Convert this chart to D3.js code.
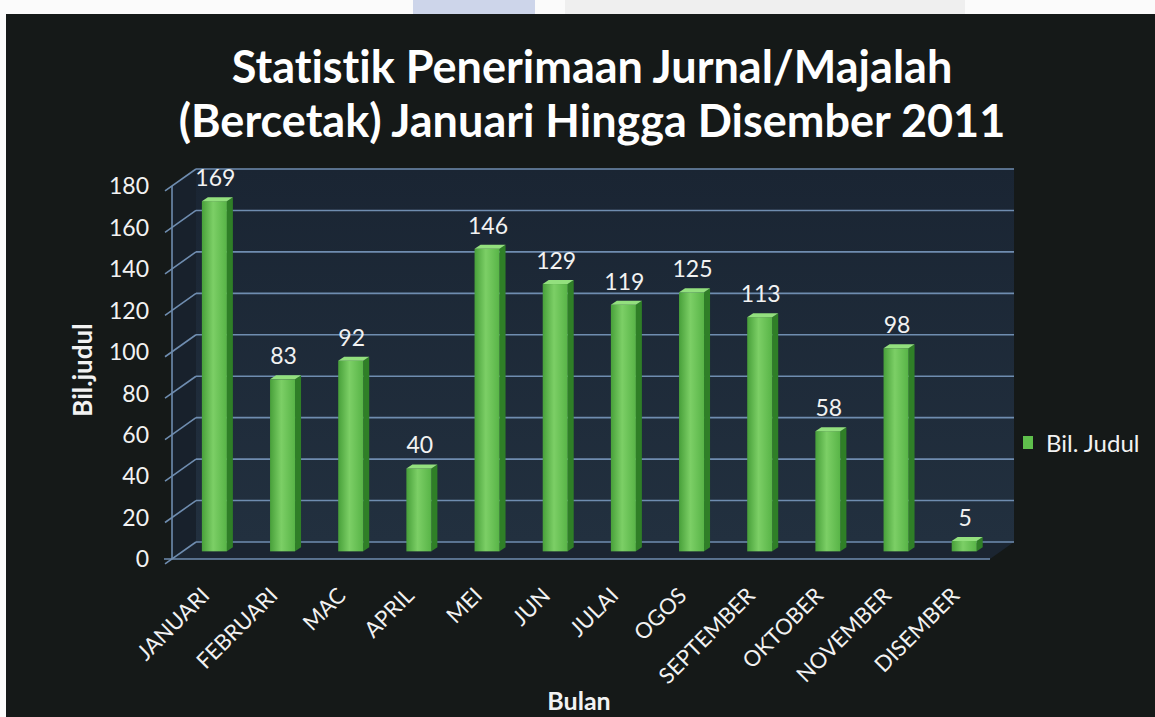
<!DOCTYPE html>
<html>
  <head>
    <meta charset="utf-8" />
    <title>Statistik Penerimaan Jurnal/Majalah</title>
    <style>
      html, body { margin: 0; padding: 0; background: #fff; }
      svg { display: block; font-family: Lato, "Open Sans", sans-serif; font-variant-ligatures: none; }
    </style>
  </head>
  <body>
    <div id="chart"></div>
    <script src="https://cdnjs.cloudflare.com/ajax/libs/d3/7.8.5/d3.min.js"></script>
    <script>
const months = ['JANUARI', 'FEBRUARI', 'MAC', 'APRIL', 'MEI', 'JUN', 'JULAI',
                'OGOS', 'SEPTEMBER', 'OKTOBER', 'NOVEMBER', 'DISEMBER'],
      counts = [169, 83, 92, 40, 146, 129, 119, 125, 113, 58, 98, 5],
      yTicks = [0, 20, 40, 60, 80, 100, 120, 140, 160, 180],
      titleLines = ['Statistik Penerimaan Jurnal/Majalah', '(Bercetak) Januari Hingga Disember 2011'];

const W = 1155, H = 717,
      depth = {dx: 24, dy: -17},     // offset from front plane to back wall
      barT = 0.45;                   // where the bars sit in the depth

let svg = d3.select('#chart').append('svg')
            .attr('width', W)
            .attr('height', H);

let defs = svg.append('defs');
let gBar = defs.append('linearGradient').attr('id', 'barFront');
gBar.append('stop').attr('offset', '0%').attr('stop-color', '#48a03a');
gBar.append('stop').attr('offset', '45%').attr('stop-color', '#7ccf66');
gBar.append('stop').attr('offset', '100%').attr('stop-color', '#58b447');
let gWall = defs.append('linearGradient').attr('id', 'wall')
                .attr('x1', 0).attr('y1', 0).attr('x2', 0).attr('y2', 1);
gWall.append('stop').attr('offset', '0%').attr('stop-color', '#1a2533');
gWall.append('stop').attr('offset', '100%').attr('stop-color', '#22303f');

// scanned page background
svg.append('rect').attr('width', W).attr('height', H).attr('fill', '#fbfbfb');
svg.append('rect').attr('x', 413).attr('y', 0).attr('width', 122).attr('height', 15).attr('fill', '#cdd5ea');
svg.append('rect').attr('x', 565).attr('y', 0).attr('width', 400).attr('height', 19).attr('fill', '#efefef');
svg.append('rect').attr('x', 6).attr('y', 14).attr('width', W - 6).attr('height', H - 14).attr('fill', '#151918');

const x = d3.scaleBand().domain(months).range([172, 990]),
      y = d3.scaleLinear().domain([0, 180]).range([559, 186]);

// back wall, floor and side wall
const x0 = x.range()[0], x1 = x.range()[1];
svg.append('path')
   .attr('d', `M${x0 + depth.dx},${y(180) + depth.dy}H${x1 + depth.dx}V${y(0) + depth.dy}H${x0 + depth.dx}Z`)
   .attr('fill', 'url(#wall)');
svg.append('path')
   .attr('d', `M${x0},${y(0)}L${x1},${y(0)}L${x1 + depth.dx},${y(0) + depth.dy}L${x0 + depth.dx},${y(0) + depth.dy}Z`)
   .attr('fill', '#1b2531');
svg.append('path')
   .attr('d', `M${x0},${y(0)}L${x0},${y(180)}L${x0 + depth.dx},${y(180) + depth.dy}L${x0 + depth.dx},${y(0) + depth.dy}Z`)
   .attr('fill', '#18212c');

let grid = svg.append('g').attr('stroke', '#6f8db0').attr('stroke-width', 1.6).attr('fill', 'none');
grid.selectAll('.hline')
    .data(yTicks)
    .enter()
    .append('line')
      .attr('x1', x0 + depth.dx).attr('x2', x1 + depth.dx)
      .attr('y1', d => y(d) + depth.dy).attr('y2', d => y(d) + depth.dy);
grid.selectAll('.dline')
    .data(yTicks)
    .enter()
    .append('line')
      .attr('x1', x0 - 7).attr('y1', d => y(d) + 7 * 17 / 24)
      .attr('x2', x0 + depth.dx).attr('y2', d => y(d) + depth.dy);
grid.append('line').attr('x1', x0).attr('x2', x0).attr('y1', y(0)).attr('y2', y(180));
grid.append('line').attr('x1', x0 - 8).attr('x2', x1).attr('y1', y(0)).attr('y2', y(0));

// 3d columns
const bw = 25, side = 6, sdy = -4,
      bdx = depth.dx * barT, bdy = depth.dy * barT;
const cx = m => x(m) + x.bandwidth() / 2 + bdx;
let bars = svg.append('g')
  .selectAll('.bar')
  .data(months.map((m, i) => ({m: m, v: counts[i]})))
  .enter()
  .append('g')
    .attr('class', 'bar');
bars.each(function(d) {
  let g = d3.select(this),
      left = cx(d.m) - 15,
      top = y(d.v) + bdy,
      bot = y(0) + bdy;
  g.append('path')
   .attr('d', `M${left + bw},${top}L${left + bw + side},${top + sdy}L${left + bw + side},${bot + sdy}L${left + bw},${bot}Z`)
   .attr('fill', '#2f7f27');
  g.append('rect')
   .attr('x', left).attr('y', top)
   .attr('width', bw).attr('height', bot - top)
   .attr('fill', 'url(#barFront)');
  g.append('path')
   .attr('d', `M${left},${top}L${left + side},${top + sdy}L${left + bw + side},${top + sdy}L${left + bw},${top}Z`)
   .attr('fill', '#93e07e');
  g.append('text')
   .attr('x', left + bw / 2 + 1)
   .attr('y', top - 15)
   .attr('text-anchor', 'middle')
   .attr('fill', '#f2f2f2')
   .style('font-size', '23px')
   .text(d.v);
});

// y axis labels
svg.append('g')
  .selectAll('text')
  .data(yTicks)
  .enter()
  .append('text')
    .attr('x', 149)
    .attr('y', d => y(d))
    .attr('dy', '0.36em')
    .attr('text-anchor', 'end')
    .attr('fill', '#f2f2f2')
    .style('font-size', '23px')
    .text(d => d);

// x axis labels, rotated
svg.append('g')
  .selectAll('text')
  .data(months)
  .enter()
  .append('text')
    .attr('transform', d => `translate(${cx(d) - 6},${597}) rotate(-45)`)
    .attr('text-anchor', 'end')
    .attr('fill', '#f2f2f2')
    .style('font-size', '22px')
    .text(d => d);

// titles
svg.append('g')
  .selectAll('text')
  .data(titleLines)
  .enter()
  .append('text')
    .attr('x', 592)
    .attr('y', (d, i) => 83 + i * 54)
    .attr('text-anchor', 'middle')
    .attr('fill', '#ffffff')
    .style('font-size', '45px')
    .style('font-weight', 'bold')
    .text(d => d);

svg.append('text')
   .attr('transform', 'translate(92,370) rotate(-90)')
   .attr('text-anchor', 'middle')
   .attr('fill', '#f2f2f2')
   .style('font-size', '26px')
   .style('font-weight', 'bold')
   .text('Bil.judul');

svg.append('text')
   .attr('x', 579).attr('y', 710)
   .attr('text-anchor', 'middle')
   .attr('fill', '#f2f2f2')
   .style('font-size', '25px')
   .style('font-weight', 'bold')
   .text('Bulan');

// legend
svg.append('rect').attr('x', 1023).attr('y', 436).attr('width', 10).attr('height', 13).attr('fill', '#5fbf4c');
svg.append('text')
   .attr('x', 1046).attr('y', 443)
   .attr('dy', '0.36em')
   .attr('fill', '#f2f2f2')
   .style('font-size', '24px')
   .text('Bil. Judul');
    </script>
  </body>
</html>
